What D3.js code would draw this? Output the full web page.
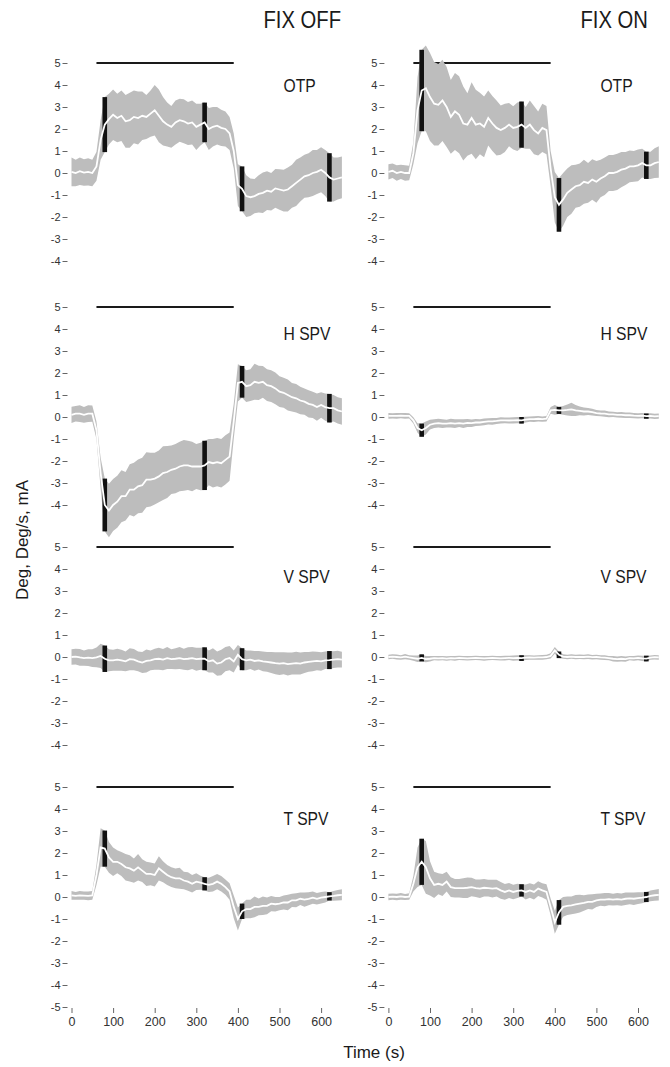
<!DOCTYPE html>
<html>
<head>
<meta charset="utf-8">
<script src="https://cdn.jsdelivr.net/npm/d3@7"></script>
<style>
    body { margin: 0; background: #fff; }
    text { font-family: "Liberation Sans", Arial, Helvetica, sans-serif; }
</style>
</head>
<body>
<div id="canvas"></div>
<script>
// time base, 0..650 s every 10 s
var times = d3.range(0, 651, 10);

// stimulus (black line at 5) and the times of the black error bars
var stimOn = 60, stimOff = 390;
var barTimes = [80, 320, 410, 620];

var columnTitles = ["FIX OFF", "FIX ON"];
var rowNames = ["OTP", "H SPV", "V SPV", "T SPV"];
var xTicks = [0, 100, 200, 300, 400, 500, 600];

// OTP
var otpOffMean = [0.05, 0.0, 0.08, 0.02, 0.05, 0.0, 0.3, 1.5, 2.2, 2.45,
    2.65, 2.5, 2.6, 2.35, 2.4, 2.55, 2.5, 2.6, 2.55, 2.7,
    2.85, 2.6, 2.35, 2.2, 2.1, 2.3, 2.4, 2.35, 2.25, 2.3,
    2.1, 2.2, 2.3, 2.0, 2.1, 2.15, 2.05, 2.0, 1.8, 1.0,
    -0.55, -0.72, -1.05, -1.1, -1.05, -0.95, -0.9, -0.8, -0.85, -0.7,
    -0.75, -0.8, -0.75, -0.6, -0.45, -0.3, -0.15, -0.1, 0.0, 0.05,
    0.15, 0.0, -0.2, -0.3, -0.25, -0.2];
var otpOffSd = [0.65, 0.6, 0.62, 0.6, 0.62, 0.6, 0.65, 0.9, 1.25, 1.15,
    1.15, 1.1, 1.15, 1.2, 1.25, 1.2, 1.2, 1.1, 1.0, 1.05,
    1.15, 1.2, 1.1, 1.0, 0.95, 1.0, 0.98, 1.0, 0.98, 1.0,
    1.05, 0.95, 0.9, 0.95, 0.9, 0.85, 0.82, 0.8, 0.75, 0.8,
    0.95, 1.02, 0.95, 0.85, 0.78, 0.85, 0.92, 0.88, 0.85, 0.88,
    0.92, 0.95, 1.0, 0.98, 1.05, 1.0, 0.98, 1.0, 1.05, 1.0,
    1.02, 1.05, 1.1, 1.0, 0.95, 0.95];
var otpOnMean = [0.05, 0.1, 0.0, 0.05, 0.0, 0.0, 0.9, 2.85, 3.75, 3.85,
    3.45, 3.15, 3.1, 3.3, 3.0, 2.55, 2.8, 2.65, 2.25, 2.2,
    2.5, 2.2, 2.25, 2.1, 2.5, 2.25, 2.05, 1.95, 2.05, 2.2,
    2.05, 2.1, 2.2, 2.05, 2.2, 1.95, 1.8, 2.05, 1.95, 0.2,
    -1.1, -1.45, -1.2, -0.9, -0.75, -0.6, -0.55, -0.4, -0.45, -0.3,
    -0.4, -0.25, -0.15, 0.0, 0.0, 0.05, 0.15, 0.2, 0.3, 0.3,
    0.35, 0.45, 0.35, 0.35, 0.45, 0.5];
var otpOnSd = [0.35, 0.33, 0.35, 0.32, 0.35, 0.33, 0.5, 1.5, 1.85, 1.95,
    2.0, 1.9, 1.85, 1.85, 1.82, 1.68, 1.75, 1.75, 1.68, 1.42,
    1.62, 1.58, 1.4, 1.38, 1.25, 1.25, 1.25, 1.12, 1.1, 0.98,
    0.98, 1.1, 1.05, 0.95, 1.1, 1.1, 1.0, 1.1, 1.1, 0.8,
    1.15, 1.22, 1.2, 1.1, 1.1, 0.98, 0.98, 1.0, 0.9, 0.92,
    0.95, 0.85, 0.85, 0.82, 0.82, 0.82, 0.8, 0.75, 0.72, 0.7,
    0.72, 0.65, 0.62, 0.62, 0.68, 0.72];

// H SPV
var hspvOffMean = [0.1, 0.15, 0.15, 0.1, 0.15, 0.15, -0.6, -2.55, -4.0, -4.25,
    -4.0, -3.85, -3.6, -3.6, -3.3, -3.3, -3.15, -3.1, -2.85, -2.85,
    -2.8, -2.7, -2.55, -2.5, -2.4, -2.35, -2.25, -2.2, -2.2, -2.25,
    -2.25, -2.25, -2.2, -2.05, -2.1, -2.05, -2.1, -1.95, -1.8, -0.2,
    1.55, 1.6, 1.4, 1.45, 1.6, 1.55, 1.6, 1.45, 1.4, 1.3,
    1.15, 1.1, 1.0, 0.9, 0.85, 0.75, 0.7, 0.6, 0.55, 0.45,
    0.55, 0.45, 0.4, 0.4, 0.3, 0.25];
var hspvOffSd = [0.37, 0.35, 0.38, 0.36, 0.38, 0.37, 0.4, 0.7, 1.2, 1.22,
    1.18, 1.18, 1.18, 1.1, 1.15, 1.22, 1.22, 1.25, 1.25, 1.22,
    1.18, 1.18, 1.22, 1.18, 1.1, 1.12, 1.12, 1.15, 1.12, 1.12,
    1.02, 1.08, 1.12, 1.05, 1.1, 1.1, 1.1, 1.12, 1.1, 0.8,
    0.85, 0.72, 0.72, 0.72, 0.82, 0.78, 0.72, 0.72, 0.72, 0.72,
    0.7, 0.68, 0.7, 0.65, 0.65, 0.62, 0.6, 0.62, 0.6, 0.62,
    0.58, 0.62, 0.65, 0.6, 0.6, 0.6];
var hspvOnMean = [0.05, 0.05, 0.05, 0.06, 0.05, 0.05, -0.15, -0.5, -0.6, -0.5,
    -0.35, -0.3, -0.28, -0.3, -0.3, -0.28, -0.3, -0.28, -0.3, -0.27,
    -0.28, -0.25, -0.25, -0.22, -0.2, -0.2, -0.18, -0.15, -0.15, -0.16,
    -0.15, -0.14, -0.15, -0.12, -0.1, -0.1, -0.08, -0.1, -0.08, 0.3,
    0.32, 0.3, 0.3, 0.32, 0.35, 0.3, 0.28, 0.25, 0.25, 0.22,
    0.18, 0.16, 0.15, 0.12, 0.12, 0.1, 0.1, 0.08, 0.08, 0.06,
    0.05, 0.06, 0.04, 0.05, 0.03, 0.04];
var hspvOnSd = [0.13, 0.12, 0.13, 0.12, 0.13, 0.12, 0.14, 0.22, 0.3, 0.3,
    0.22, 0.2, 0.2, 0.2, 0.18, 0.2, 0.2, 0.18, 0.2, 0.18,
    0.17, 0.16, 0.15, 0.15, 0.14, 0.15, 0.14, 0.14, 0.13, 0.14,
    0.14, 0.14, 0.15, 0.13, 0.12, 0.13, 0.12, 0.12, 0.12, 0.15,
    0.22, 0.16, 0.2, 0.25, 0.3, 0.25, 0.2, 0.18, 0.16, 0.15,
    0.14, 0.13, 0.14, 0.13, 0.12, 0.12, 0.13, 0.12, 0.12, 0.12,
    0.12, 0.12, 0.12, 0.12, 0.12, 0.12];

// V SPV
var vspvOffMean = [0.0, 0.02, -0.02, -0.05, -0.03, -0.05, -0.02, 0.05, -0.08, -0.15,
    -0.15, -0.12, -0.15, -0.2, -0.1, -0.12, -0.2, -0.25, -0.18, -0.15,
    -0.1, -0.08, -0.12, -0.05, -0.1, -0.08, -0.05, -0.1, -0.08, -0.05,
    -0.1, -0.08, -0.08, -0.2, -0.15, -0.3, -0.25, -0.1, -0.05, -0.2,
    0.1, -0.1, -0.15, -0.12, -0.18, -0.15, -0.2, -0.22, -0.25, -0.28,
    -0.3, -0.28, -0.32, -0.3, -0.28, -0.3, -0.25, -0.22, -0.2, -0.18,
    -0.2, -0.15, -0.14, -0.12, -0.1, -0.12];
var vspvOffSd = [0.35, 0.36, 0.38, 0.35, 0.38, 0.4, 0.45, 0.55, 0.6, 0.5,
    0.48, 0.5, 0.48, 0.45, 0.5, 0.48, 0.45, 0.48, 0.52, 0.45,
    0.48, 0.5, 0.48, 0.5, 0.45, 0.48, 0.5, 0.48, 0.52, 0.5,
    0.52, 0.5, 0.52, 0.5, 0.55, 0.55, 0.58, 0.55, 0.55, 0.5,
    0.45, 0.5, 0.45, 0.42, 0.45, 0.42, 0.45, 0.45, 0.48, 0.5,
    0.52, 0.5, 0.52, 0.5, 0.52, 0.5, 0.48, 0.45, 0.45, 0.42,
    0.42, 0.4, 0.41, 0.38, 0.38, 0.36];
var vspvOnMean = [0.0, 0.02, 0.0, -0.02, 0.02, -0.02, -0.05, -0.08, -0.04, -0.1,
    -0.08, -0.05, -0.06, -0.05, -0.07, -0.05, -0.06, -0.04, -0.05, -0.06,
    -0.05, -0.04, -0.05, -0.06, -0.05, -0.04, -0.05, -0.06, -0.05, -0.04,
    -0.05, -0.04, -0.05, -0.03, -0.02, -0.03, -0.02, -0.02, 0.0, 0.05,
    0.3, 0.1, 0.02, 0.0, 0.02, 0.0, 0.01, 0.0, 0.02, -0.01,
    0.0, -0.02, -0.03, -0.05, -0.08, -0.1, -0.08, -0.1, -0.05, -0.06,
    -0.04, -0.06, -0.07, -0.03, -0.01, -0.02];
var vspvOnSd = [0.1, 0.1, 0.11, 0.1, 0.12, 0.1, 0.12, 0.15, 0.16, 0.14,
    0.12, 0.1, 0.1, 0.1, 0.1, 0.1, 0.11, 0.1, 0.1, 0.1,
    0.1, 0.1, 0.1, 0.11, 0.1, 0.1, 0.1, 0.1, 0.11, 0.1,
    0.12, 0.12, 0.13, 0.11, 0.1, 0.1, 0.1, 0.11, 0.1, 0.12,
    0.15, 0.15, 0.1, 0.1, 0.1, 0.1, 0.1, 0.1, 0.11, 0.1,
    0.1, 0.1, 0.11, 0.1, 0.12, 0.12, 0.12, 0.12, 0.1, 0.11,
    0.11, 0.12, 0.13, 0.1, 0.1, 0.1];

// T SPV
var tspvOffMean = [0.07, 0.05, 0.07, 0.06, 0.05, 0.07, 1.0, 2.25, 2.2, 1.8,
    1.6, 1.6, 1.5, 1.35, 1.3, 1.2, 1.35, 1.2, 1.05, 1.05,
    1.0, 1.3, 1.15, 1.0, 0.9, 0.85, 0.85, 0.75, 0.7, 0.6,
    0.7, 0.65, 0.6, 0.55, 0.6, 0.7, 0.6, 0.45, 0.25, -0.45,
    -1.0, -0.65, -0.55, -0.55, -0.45, -0.45, -0.4, -0.4, -0.3, -0.33,
    -0.3, -0.25, -0.25, -0.15, -0.15, -0.08, -0.12, -0.08, -0.03, -0.08,
    -0.03, 0.0, 0.03, 0.05, 0.08, 0.1];
var tspvOffSd = [0.2, 0.18, 0.2, 0.19, 0.2, 0.2, 0.45, 0.88, 0.82, 0.7,
    0.65, 0.52, 0.55, 0.6, 0.6, 0.55, 0.6, 0.52, 0.55, 0.52,
    0.52, 0.55, 0.48, 0.45, 0.45, 0.45, 0.48, 0.4, 0.42, 0.4,
    0.38, 0.32, 0.3, 0.32, 0.35, 0.35, 0.35, 0.35, 0.38, 0.52,
    0.52, 0.35, 0.42, 0.42, 0.47, 0.38, 0.42, 0.38, 0.35, 0.33,
    0.3, 0.32, 0.35, 0.3, 0.32, 0.28, 0.32, 0.3, 0.28, 0.26,
    0.26, 0.25, 0.19, 0.22, 0.24, 0.25];
var tspvOnMean = [0.0, 0.02, 0.0, 0.03, 0.0, 0.02, 0.6, 1.35, 1.6, 1.35,
    0.85, 0.55, 0.6, 0.55, 0.7, 0.45, 0.4, 0.4, 0.4, 0.42,
    0.45, 0.4, 0.38, 0.42, 0.4, 0.38, 0.4, 0.3, 0.23, 0.3,
    0.23, 0.28, 0.3, 0.23, 0.3, 0.23, 0.38, 0.3, 0.23, -0.45,
    -1.15, -0.7, -0.45, -0.4, -0.38, -0.33, -0.3, -0.27, -0.22, -0.22,
    -0.15, -0.12, -0.12, -0.1, -0.12, -0.1, -0.12, -0.08, -0.06, -0.08,
    -0.05, -0.03, 0.0, 0.05, 0.08, 0.1];
var tspvOnSd = [0.15, 0.14, 0.15, 0.15, 0.14, 0.15, 0.35, 0.9, 1.05, 1.2,
    0.78, 0.6, 0.48, 0.5, 0.45, 0.45, 0.42, 0.42, 0.45, 0.47,
    0.42, 0.4, 0.42, 0.4, 0.38, 0.4, 0.38, 0.38, 0.36, 0.34,
    0.33, 0.32, 0.28, 0.34, 0.33, 0.34, 0.34, 0.32, 0.35, 0.38,
    0.52, 0.56, 0.45, 0.42, 0.4, 0.42, 0.4, 0.35, 0.33, 0.35,
    0.3, 0.28, 0.3, 0.28, 0.27, 0.28, 0.28, 0.28, 0.27, 0.28,
    0.27, 0.25, 0.23, 0.24, 0.25, 0.26];

var panels = [
    {row: 0, col: 0, mean: otpOffMean, sd: otpOffSd},
    {row: 0, col: 1, mean: otpOnMean, sd: otpOnSd},
    {row: 1, col: 0, mean: hspvOffMean, sd: hspvOffSd},
    {row: 1, col: 1, mean: hspvOnMean, sd: hspvOnSd},
    {row: 2, col: 0, mean: vspvOffMean, sd: vspvOffSd},
    {row: 2, col: 1, mean: vspvOnMean, sd: vspvOnSd},
    {row: 3, col: 0, mean: tspvOffMean, sd: tspvOffSd},
    {row: 3, col: 1, mean: tspvOnMean, sd: tspvOnSd}
];

// layout
var width = 670, height = 1067;
var colLeft = [71.5, 388.4];          // pixel of t = 0
var plotW = 650 * 0.416;              // 650 s
var rowTop = [63, 307, 547, 787];     // pixel of value 5
var plotH = 220;                      // 5 .. -5
var labelDy = [29, 33, 36, 38];

var svg = d3.select("#canvas").append("svg")
    .attr("width", width)
    .attr("height", height)
    .attr("xmlns", "http://www.w3.org/2000/svg");

svg.append("rect").attr("width", width).attr("height", height).attr("fill", "#fff");

// squeeze text a little, the original font is narrower than Liberation Sans
function condense(sel, f) {
    sel.each(function () {
        var w = this.getComputedTextLength();
        d3.select(this).attr("textLength", w * f).attr("lengthAdjust", "spacingAndGlyphs");
    });
}

panels.forEach(function (p) {
    var x = d3.scaleLinear().domain([0, 650]).range([colLeft[p.col], colLeft[p.col] + plotW]);
    var y = d3.scaleLinear().domain([-5, 5]).range([rowTop[p.row] + plotH, rowTop[p.row]]);
    var g = svg.append("g");

    // y axis, just ticks and numbers
    var yTicks = p.row === 3 ? d3.range(-5, 6) : d3.range(-4, 6);
    var yAxis = g.append("g")
        .attr("transform", "translate(" + (colLeft[p.col] - 4) + ",0)")
        .call(d3.axisLeft(y).tickValues(yTicks).tickSize(5).tickPadding(2)
            .tickFormat(function (d) { return String(d); }));
    yAxis.select(".domain").remove();
    yAxis.selectAll("line").attr("stroke", "#666");
    yAxis.selectAll("text").attr("fill", "#333").style("font-size", "11px");

    // x axis only under the last row
    if (p.row === 3) {
        var xAxis = g.append("g")
            .attr("transform", "translate(0," + (y(-5) + 1) + ")")
            .call(d3.axisBottom(x).tickValues(xTicks).tickSize(5).tickPadding(4)
                .tickFormat(function (d) { return String(d); }));
        xAxis.select(".domain").remove();
        xAxis.selectAll("line").attr("stroke", "#666").attr("y1", 0).attr("y2", 5);
        xAxis.selectAll("text").attr("fill", "#333").style("font-size", "12.5px");
    }

    // stimulus bar
    g.append("line")
        .attr("x1", x(stimOn)).attr("x2", x(stimOff))
        .attr("y1", y(5)).attr("y2", y(5))
        .attr("stroke", "#1a1a1a")
        .attr("stroke-width", 2);

    var pts = times.map(function (t, i) {
        return {t: t, m: p.mean[i], s: p.sd[i]};
    });

    // grey band mean +- sd
    var area = d3.area()
        .x(function (d) { return x(d.t); })
        .y0(function (d) { return y(d.m - d.s); })
        .y1(function (d) { return y(d.m + d.s); });
    g.append("path")
        .datum(pts)
        .attr("d", area)
        .attr("fill", "#bdbdbd");

    // black error bars
    var bars = barTimes.map(function (t) {
        return pts[times.indexOf(t)];
    });
    g.selectAll(".bar")
        .data(bars)
        .enter()
        .append("rect")
        .attr("class", "bar")
        .attr("x", function (d) { return x(d.t) - 2.3; })
        .attr("y", function (d) { return y(d.m + d.s); })
        .attr("width", 4.6)
        .attr("height", function (d) { return y(d.m - d.s) - y(d.m + d.s); })
        .attr("fill", "#111");

    // white mean line
    var line = d3.line()
        .x(function (d) { return x(d.t); })
        .y(function (d) { return y(d.m); });
    g.append("path")
        .datum(pts)
        .attr("d", line)
        .attr("fill", "none")
        .attr("stroke", "#fff")
        .attr("stroke-width", 1.8);

    // panel name
    g.append("text")
        .attr("x", colLeft[p.col] + 212)
        .attr("y", rowTop[p.row] + labelDy[p.row])
        .attr("fill", "#1a1a1a")
        .style("font-size", "18px")
        .text(rowNames[p.row])
        .call(condense, 0.87);
});

// column titles
svg.selectAll(".title")
    .data(columnTitles)
    .enter()
    .append("text")
    .attr("class", "title")
    .attr("x", function (d, i) { return colLeft[i] + 192; })
    .attr("y", 28)
    .attr("fill", "#1a1a1a")
    .style("font-size", "23px")
    .text(function (d) { return d; })
    .call(condense, 0.88);

// axis titles
svg.append("text")
    .attr("transform", "translate(28,540) rotate(-90)")
    .attr("text-anchor", "middle")
    .attr("fill", "#1a1a1a")
    .style("font-size", "17px")
    .text("Deg, Deg/s, mA");

svg.append("text")
    .attr("x", 374)
    .attr("y", 1058)
    .attr("text-anchor", "middle")
    .attr("fill", "#1a1a1a")
    .style("font-size", "17px")
    .text("Time (s)");
</script>
</body>
</html>
